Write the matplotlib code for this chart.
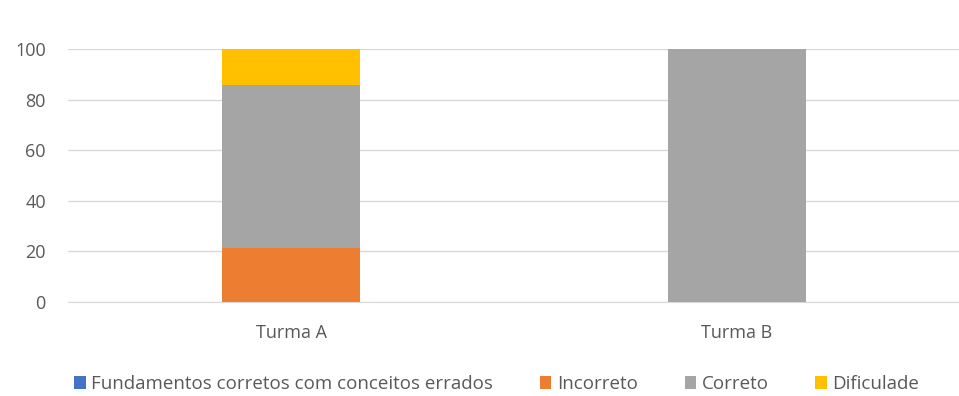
import numpy as np
import matplotlib.pyplot as plt

turmas = ["Turma A", "Turma B"]
fundamentos = [0, 0]
incorreto = [21.4, 0]
correto = [64.3, 100]
dificuldade = [14.3, 0]

series = [
    ("Fundamentos corretos com conceitos errados", fundamentos, "#4472C4"),
    ("Incorreto", incorreto, "#ED7D31"),
    ("Correto", correto, "#A5A5A5"),
    ("Dificulade", dificuldade, "#FFC000"),
]

plt.rcParams['font.family'] = ['Open Sans', 'DejaVu Sans']
fig = plt.figure(figsize=(9.59, 3.96), dpi=100)
ax = fig.add_axes([0.071, 0.2374, 0.93, 0.638])

x = np.arange(len(turmas))
bottom = np.zeros(len(turmas))
handles = []
for name, vals, col in series:
    b = ax.bar(x, vals, 0.31, bottom=bottom, color=col, label=name, zorder=3)
    bottom += np.array(vals)
    handles.append(b)

ax.set_xlim(-0.5, 1.5)
ax.set_ylim(0, 100)
ax.set_yticks(range(0, 101, 20))
ax.set_xticks(x)
ax.set_xticklabels(turmas)
ax.grid(axis='y', color='#D9D9D9', linewidth=1, zorder=0)
for s in ['top', 'right', 'left']:
    ax.spines[s].set_visible(False)
ax.spines['bottom'].set_color('#D9D9D9')
ax.tick_params(axis='both', length=0, labelsize=13, colors='#595959')
ax.tick_params(axis='y', pad=16)
ax.tick_params(axis='x', pad=16)

fig.legend(handles=handles, loc='center', bbox_to_anchor=(0.518, 1 - 384 / 396),
           ncol=4, frameon=False, fontsize=13.5, handlelength=0.6, handleheight=0.7,
           columnspacing=2.5, handletextpad=0.3, labelcolor='#595959')

fig.savefig("out.png", dpi=100)
